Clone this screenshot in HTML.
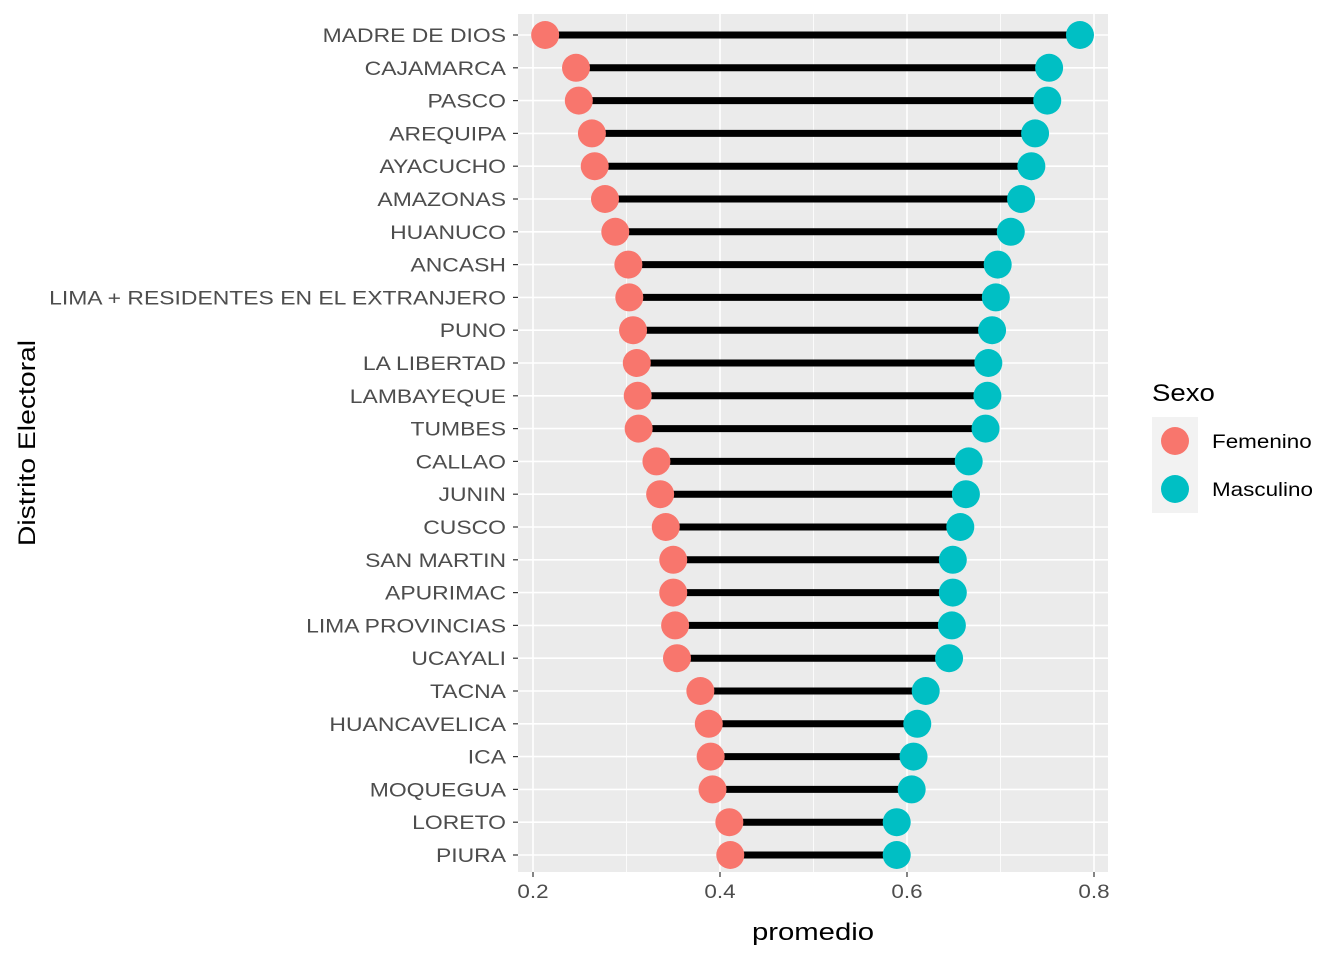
<!DOCTYPE html>
<html><head><meta charset="utf-8"><style>
body{margin:0;background:#fff}
svg{font-family:"Liberation Sans",Arial,sans-serif;display:block}
</style></head><body>
<svg id="chart" width="1344" height="960"></svg>
<script>
const categories=["MADRE DE DIOS","CAJAMARCA","PASCO","AREQUIPA","AYACUCHO","AMAZONAS","HUANUCO","ANCASH","LIMA + RESIDENTES EN EL EXTRANJERO","PUNO","LA LIBERTAD","LAMBAYEQUE","TUMBES","CALLAO","JUNIN","CUSCO","SAN MARTIN","APURIMAC","LIMA PROVINCIAS","UCAYALI","TACNA","HUANCAVELICA","ICA","MOQUEGUA","LORETO","PIURA"];
const femenino=[0.213,0.246,0.249,0.263,0.266,0.277,0.288,0.302,0.303,0.307,0.311,0.312,0.313,0.332,0.336,0.342,0.350,0.350,0.352,0.354,0.379,0.388,0.390,0.392,0.410,0.411];
const masculino=[0.785,0.752,0.750,0.737,0.733,0.722,0.711,0.697,0.695,0.691,0.687,0.686,0.684,0.666,0.663,0.657,0.649,0.649,0.648,0.645,0.620,0.611,0.607,0.605,0.589,0.589];
const xTicks=[0.2,0.4,0.6,0.8];
const xMinor=[0.3,0.5,0.7];
const NS="http://www.w3.org/2000/svg";
const svg=document.getElementById('chart');
const L=518,R=1108,T=14,B=872;
const x=v=>533+(v-0.2)*935;
const y=i=>35+i*(820/(categories.length-1));
function mk(tag,attrs,parent){const e=document.createElementNS(NS,tag);for(const k in attrs)e.setAttribute(k,attrs[k]);(parent||svg).appendChild(e);return e;}
function stretch(t,f){const w=t.getComputedTextLength();t.setAttribute('textLength',w*f);t.setAttribute('lengthAdjust','spacingAndGlyphs');}
const bg=mk('rect',{x:L,y:T,width:R-L,height:B-T,fill:'#EBEBEB'});


xMinor.forEach(v=>{const l=mk('line',{x1:x(v),x2:x(v),y1:T,y2:B,stroke:'#fff','stroke-width':0.8});

});
xTicks.forEach(v=>{const l=mk('line',{x1:x(v),x2:x(v),y1:T,y2:B,stroke:'#fff','stroke-width':1.6});


const t=mk('line',{x1:x(v),x2:x(v),y1:B,y2:B+5,stroke:'#333','stroke-width':1.2});


const tx=mk('text',{x:x(v),y:B+26,'text-anchor':'middle','font-size':19,fill:'#4d4d4d'});tx.textContent=v.toString();
stretch(tx,1.18);

});
categories.forEach((c,i)=>{const l=mk('line',{x1:L,x2:R,y1:y(i),y2:y(i),stroke:'#fff','stroke-width':1.6});


const t=mk('line',{x1:L-5,x2:L,y1:y(i),y2:y(i),stroke:'#333','stroke-width':1.2});


const tx=mk('text',{x:L-12,y:y(i)+7,'text-anchor':'end','font-size':19.5,fill:'#4d4d4d'});tx.textContent=c;
stretch(tx,1.175);

});
categories.forEach((c,i)=>{const s=mk('line',{x1:x(femenino[i]),x2:x(masculino[i]),y1:y(i),y2:y(i),stroke:'#000','stroke-width':7});


const f=mk('circle',{cx:x(femenino[i]),cy:y(i),r:14,fill:'#F8766D'});


const m=mk('circle',{cx:x(masculino[i]),cy:y(i),r:14,fill:'#00BFC4'});

});
const xt=mk('text',{x:813,y:940,'text-anchor':'middle','font-size':24,fill:'#000'});xt.textContent='promedio';
stretch(xt,1.22);


const yt=mk('text',{x:0,y:0,'text-anchor':'middle','font-size':24,fill:'#000',transform:'translate(35,443) rotate(-90)'});yt.textContent='Distrito Electoral';
stretch(yt,1.18);


const lt=mk('text',{x:1152,y:401,'font-size':24,fill:'#000'});lt.textContent='Sexo';
stretch(lt,1.15);


[['Femenino','#F8766D',441],['Masculino','#00BFC4',489]].forEach(([n,col,yy])=>{
const g=mk('g',{});


mk('rect',{x:1152,y:yy-24,width:46,height:48,fill:'#F2F2F2'},g);
mk('circle',{cx:1175,cy:yy,r:14,fill:col},g);
const t=mk('text',{x:1212,y:yy+7,'font-size':19.5,fill:'#000'},g);t.textContent=n;
stretch(t,1.15);});
</script>
</body></html>
